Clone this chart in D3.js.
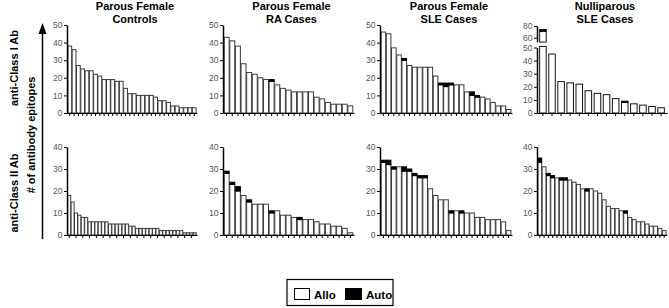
<!DOCTYPE html>
<html><head><meta charset="utf-8">
<script src="https://cdn.jsdelivr.net/npm/d3@7"></script>
<style>
body{margin:0;background:#fff}
svg{display:block}
text{font-family:Arial,"Liberation Sans",Helvetica,sans-serif}
</style>
</head><body>
<svg id="c" width="669" height="308"></svg>
<script>
// ---------- data ----------
const groupTitles = [["Parous Female","Controls"],["Parous Female","RA Cases"],["Parous Female","SLE Cases"],["Nulliparous","SLE Cases"]];
const rowLabels = ["anti-Class I Ab","anti-Class II Ab"];
const yAxisTitle = "# of antibody epitopes";
const legendLabels = ["Allo","Auto"];
const classITicks = [0,10,20,30,40,50];
const classIITicks = [0,10,20,30,40];
const nulliUpperTicks = [60,80];

// anti-Class I (top row)
const classI_controls_allo = [38,36,27,25,24,24,22,21,19,19,19,18,18,14,11,11,10,10,10,10,9,7,7,6,4,4,3,3,3,3];
const classI_controls_auto = [0,0,0,0,0,0,0,0,0,0,0,0,0,0,0,0,0,0,0,0,0,0,0,0,0,0,0,0,0,0];
const classI_ra_allo = [43,41,38,28,23,22,20,19,18,16,14,13,12,12,12,12,9,8,6,5,5,5,4];
const classI_ra_auto = [0,0,0,0,0,0,0,0,1,0,0,0,0,0,0,0,0,0,0,0,0,0,0];
const classI_sle_allo = [46,45,37,33,30,27,26,26,26,26,21,16,15,16,16,16,12,10,9,9,8,6,4,4,2];
const classI_sle_auto = [0,0,0,0,1,0,0,0,0,0,0,1,2,1,0,0,0,2,1,0,0,0,0,0,0];
const classI_nulli_allo = [71,45,24,23,22,17,15,14,11,8,7,6,5,4];
const classI_nulli_auto = [3,0,0,0,0,0,0,0,0,1,0,0,0,0];

// anti-Class II (bottom row)
const classII_controls_allo = [18,15,10,9,8,8,6,6,6,6,6,6,5,5,5,5,5,5,4,4,3,3,3,3,3,3,3,2,2,2,2,2,2,2,1,1,1,1];
const classII_controls_auto = [0,0,0,0,0,0,0,0,0,0,0,0,0,0,0,0,0,0,0,0,0,0,0,0,0,0,0,0,0,0,0,0,0,0,0,0,0,0];
const classII_ra_allo = [28,23,20,18,15,14,14,14,10,11,9,9,8,7,7,7,6,5,5,4,4,3,1];
const classII_ra_auto = [1,1,2,0,1,0,0,0,1,0,0,0,0,1,0,0,0,0,0,0,0,0,0];
const classII_sle_allo = [33,32,30,31,29,29,27,26,26,21,18,16,16,10,11,10,10,10,8,8,7,7,7,6,2];
const classII_sle_auto = [1,2,1,0,2,1,1,1,1,0,0,0,0,1,0,1,0,0,0,0,0,0,0,0,0];
const classII_nulli_allo = [33,31,27,26,26,25,25,25,24,23,21,20,21,20,19,16,13,12,12,11,10,8,7,6,6,5,4,4,3,2];
const classII_nulli_auto = [2,0,1,1,0,1,1,0,0,0,0,1,0,0,0,0,0,0,0,0,1,0,0,0,0,0,0,0,0,0];

// ---------- layout ----------
const svg = d3.select("#c");
const colX = [[67,197],[223,354],[380,512],[537,667]];
const topRow = {y0:113, yTop:25, max:50, ticks:classITicks};
const botRow = {y0:235, yTop:147, max:40, ticks:classIITicks};

const panels = [
  {row:topRow, col:0, allo:classI_controls_allo, auto:classI_controls_auto, pad:0.12, tickStep:1},
  {row:topRow, col:1, allo:classI_ra_allo, auto:classI_ra_auto, pad:0.12, tickStep:1},
  {row:topRow, col:2, allo:classI_sle_allo, auto:classI_sle_auto, pad:0.12, tickStep:1},
  {row:topRow, col:3, allo:classI_nulli_allo, auto:classI_nulli_auto, pad:0.28, tickStep:1, broken:true},
  {row:botRow, col:0, allo:classII_controls_allo, auto:classII_controls_auto, pad:0.12, tickStep:2},
  {row:botRow, col:1, allo:classII_ra_allo, auto:classII_ra_auto, pad:0.12, tickStep:1},
  {row:botRow, col:2, allo:classII_sle_allo, auto:classII_sle_auto, pad:0.12, tickStep:1},
  {row:botRow, col:3, allo:classII_nulli_allo, auto:classII_nulli_auto, pad:0.12, tickStep:1},
];

function styleAxis(sel, w){
  sel.selectAll("path.domain").attr("stroke","#000").attr("stroke-width",w);
  sel.selectAll(".tick line").attr("stroke","#000").attr("stroke-width",1);
  sel.selectAll(".tick text").attr("fill","#555").attr("font-size","8.5px")
     .attr("font-family","Arial, 'Liberation Sans', Helvetica, sans-serif");
}

const barStroke = "#3a3a3a";

panels.forEach(p=>{
  const [x0,x1] = colX[p.col];
  const g = svg.append("g");
  const idx = d3.range(p.allo.length);
  const x = d3.scaleBand().domain(idx).range([x0,x1]).paddingInner(p.pad).paddingOuter(p.pad/2+0.15);
  const bw = x.bandwidth();

  if(!p.broken){
    const y = d3.scaleLinear().domain([0,p.row.max]).range([p.row.y0,p.row.yTop]);
    g.selectAll("rect.allo").data(idx).join("rect").attr("class","allo")
      .attr("x",i=>x(i)).attr("width",bw)
      .attr("y",i=>y(p.allo[i])).attr("height",i=>y(0)-y(p.allo[i]))
      .attr("fill","#fff").attr("stroke",barStroke).attr("stroke-width",1);
    g.selectAll("rect.auto").data(idx.filter(i=>p.auto[i]>0)).join("rect").attr("class","auto")
      .attr("x",i=>x(i)).attr("width",bw)
      .attr("y",i=>y(p.allo[i]+p.auto[i])).attr("height",i=>y(p.allo[i])-y(p.allo[i]+p.auto[i]))
      .attr("fill","#000").attr("stroke","#000").attr("stroke-width",1);
    const ya = g.append("g").attr("transform",`translate(${x0},0)`)
      .call(d3.axisLeft(y).tickValues(p.row.ticks).tickSize(3).tickSizeOuter(0).tickPadding(1.5));
    styleAxis(ya,1.5);
  } else {
    const yL = d3.scaleLinear().domain([0,50]).range([p.row.y0,47.5]);
    const yU = d3.scaleLinear().domain([60,80]).range([37.7,26]);
    const lowTop = yL(50.8), upBot = yU(52.5);
    g.selectAll("rect.allo").data(idx).join("rect").attr("class","allo")
      .attr("x",i=>x(i)).attr("width",bw)
      .attr("y",i=>p.allo[i]>50 ? lowTop : yL(p.allo[i]))
      .attr("height",i=>yL(0)-(p.allo[i]>50 ? lowTop : yL(p.allo[i])))
      .attr("fill","#fff").attr("stroke","#111").attr("stroke-width",1);
    g.selectAll("rect.alloU").data(idx.filter(i=>p.allo[i]>50)).join("rect").attr("class","alloU")
      .attr("x",i=>x(i)).attr("width",bw)
      .attr("y",i=>yU(p.allo[i])).attr("height",i=>upBot-yU(p.allo[i]))
      .attr("fill","#fff").attr("stroke","#111").attr("stroke-width",1);
    const ys = v=> v>50 ? yU(v) : yL(v);
    g.selectAll("rect.auto").data(idx.filter(i=>p.auto[i]>0)).join("rect").attr("class","auto")
      .attr("x",i=>x(i)).attr("width",bw)
      .attr("y",i=>ys(p.allo[i]+p.auto[i])).attr("height",i=>ys(p.allo[i])-ys(p.allo[i]+p.auto[i]))
      .attr("fill","#000").attr("stroke","#000").attr("stroke-width",1);
    const ya = g.append("g").attr("transform",`translate(${x0},0)`)
      .call(d3.axisLeft(yL).tickValues(p.row.ticks).tickSize(3).tickSizeOuter(0).tickPadding(1.5));
    styleAxis(ya,1.5);
    const yU2 = d3.scaleLinear().domain([53,80]).range([yU(53),yU(80)]);
    const yb = g.append("g").attr("transform",`translate(${x0},0)`)
      .call(d3.axisLeft(yU2).tickValues(nulliUpperTicks).tickSize(3).tickSizeOuter(0).tickPadding(1.5));
    styleAxis(yb,1.5);
  }
  const xa = g.append("g").attr("transform",`translate(0,${p.row.y0})`)
    .call(d3.axisBottom(x).tickValues(idx.filter(i=>i%p.tickStep===0)).tickSize(3).tickSizeOuter(0).tickFormat(""));
  styleAxis(xa,1.2);
});

// titles
groupTitles.forEach((t,i)=>{
  const cx = (colX[i][0]+colX[i][1])/2 + 3;
  const tt = svg.append("text").attr("text-anchor","middle").attr("font-weight","bold")
    .attr("font-size","11px").attr("fill","#000");
  tt.append("tspan").attr("x",cx).attr("y",9.5).text(t[0]);
  tt.append("tspan").attr("x",cx).attr("y",22.5).text(t[1]);
});

// row labels
[[68,rowLabels[0]],[193,rowLabels[1]]].forEach(([cy,l])=>{
  svg.append("text").attr("transform",`translate(18,${cy}) rotate(-90)`)
    .attr("text-anchor","middle").attr("font-weight","bold").attr("font-size","11px").text(l);
});
svg.append("text").attr("transform",`translate(35,135) rotate(-90)`)
  .attr("text-anchor","middle").attr("font-weight","bold").attr("font-size","11px").text(yAxisTitle);

// arrow
svg.append("line").attr("x1",42.5).attr("x2",42.5).attr("y1",239).attr("y2",32)
  .attr("stroke","#000").attr("stroke-width",1.5);
svg.append("path").attr("d","M42.5,23 L38.5,34 L46.5,34 Z").attr("fill","#000");

// legend
const lg = svg.append("g");
lg.append("rect").attr("x",287).attr("y",279.5).attr("width",106).attr("height",26)
  .attr("fill","#fff").attr("stroke","#000").attr("stroke-width",1.2);
lg.append("rect").attr("x",294.5).attr("y",288.5).attr("width",15).attr("height",11)
  .attr("fill","#fff").attr("stroke","#000").attr("stroke-width",1);
lg.append("text").attr("x",314).attr("y",298.5).attr("font-weight","bold").attr("font-size","11.5px").text(legendLabels[0]);
lg.append("rect").attr("x",345.5).attr("y",288.5).attr("width",16).attr("height",11)
  .attr("fill","#000").attr("stroke","#000").attr("stroke-width",1);
lg.append("text").attr("x",366).attr("y",298.5).attr("font-weight","bold").attr("font-size","11.5px").text(legendLabels[1]);
</script>
</body></html>
